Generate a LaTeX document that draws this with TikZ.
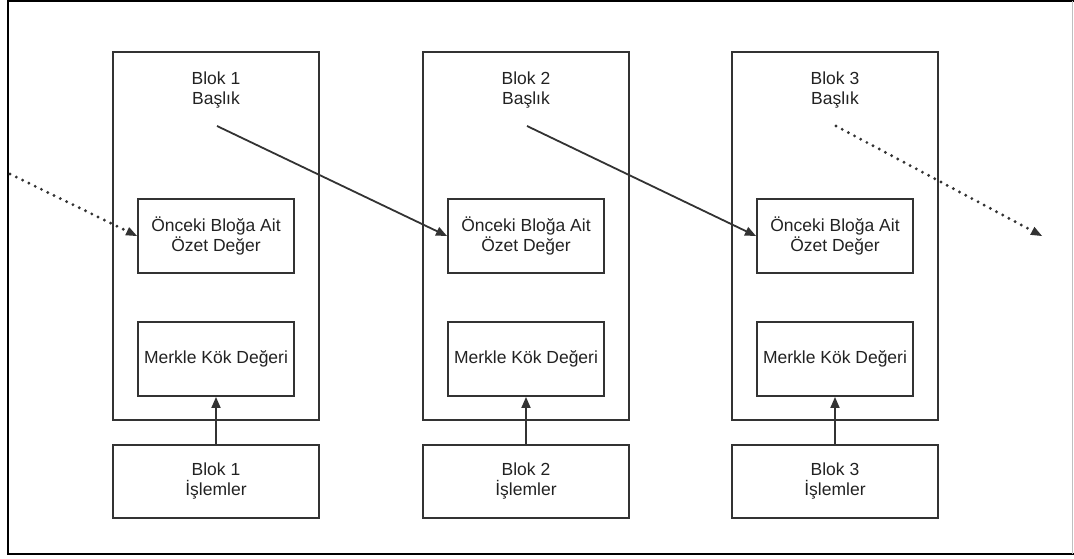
\documentclass[tikz,border=0pt]{standalone}
\usepackage{fontspec}
\setmainfont{Liberation Sans}
\usetikzlibrary{arrows.meta}
\definecolor{ink}{HTML}{333333}
\definecolor{txt}{HTML}{222222}
\begin{document}
\begin{tikzpicture}[x=1pt,y=-1pt,
  box/.style={draw=ink, line width=1.9pt, rectangle, inner sep=0pt,
    text=txt, align=center, font=\fontsize{17.5}{20}\selectfont},
  blockbox/.style={box, minimum width=206pt, minimum height=368pt},
  innerbox/.style={box, minimum width=156pt, minimum height=74pt},
  txbox/.style={box, minimum width=206pt, minimum height=73pt},
  label/.style={text=txt, align=center, font=\fontsize{17.5}{20}\selectfont, inner sep=0pt},
  link/.style={draw=ink, line width=1.8pt, -{Triangle[length=11pt,width=9pt]}},
  dotlink/.style={draw=ink, line cap=round, dash pattern=on 0pt off 7pt, line width=3.2pt,
    -{Triangle[length=11pt,width=9pt,line width=0pt]}}
]
\useasboundingbox (0,0) rectangle (1074,559);
% outer frame
\draw[black, line width=2pt] (1074,1.5) -- (8,1.5) -- (8,554) -- (1074,554);
\draw[black!25, line width=1pt] (1072,1.5) -- (1072,554);

% the three blocks
\foreach \i/\cx in {1/216, 2/526, 3/835} {
  \node[blockbox] (b\i) at (\cx,236) {};
  \node[label] (h\i) at (\cx,90) {Blok \i\\Başlık};
  \coordinate (s\i) at (\cx+1,126);
  \node[innerbox] (p\i) at (\cx,236) {Önceki Bloğa Ait\\Özet Değer};
  \node[innerbox] (m\i) at (\cx,359) {Merkle Kök Değeri};
  \node[txbox] (t\i) at (\cx,481.5) {Blok \i\\İşlemler};
  \draw[link] (t\i.north) -- (m\i.south);
}

% header-to-previous-hash links
\coordinate (in) at (10,174);
\coordinate (out) at (1042,236);
\draw[dotlink] (in) -- (p1.west);
\draw[link] (s1) -- (p2.west);
\draw[link] (s2) -- (p3.west);
\draw[dotlink] (s3) -- (out);
\end{tikzpicture}
\end{document}
